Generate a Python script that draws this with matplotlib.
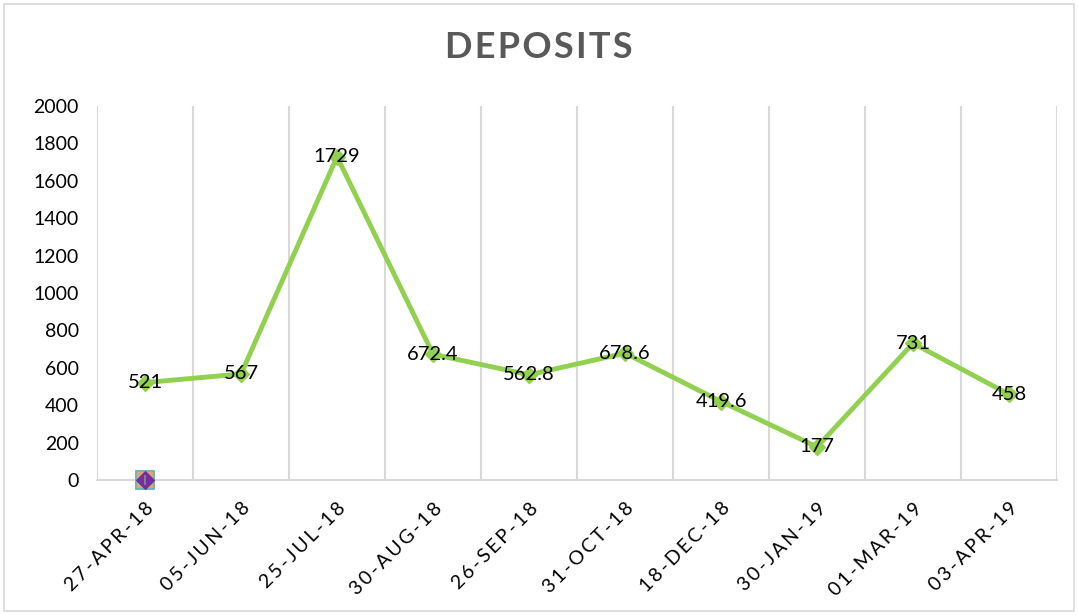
import matplotlib.pyplot as plt
import matplotlib as mpl
from matplotlib.patches import Rectangle

dates = ['27-APR-18', '05-JUN-18', '25-JUL-18', '30-AUG-18', '26-SEP-18',
         '31-OCT-18', '18-DEC-18', '30-JAN-19', '01-MAR-19', '03-APR-19']
deposits = [521, 567, 1729, 672.4, 562.8, 678.6, 419.6, 177, 731, 458]
labels = ['521', '567', '1729', '672.4', '562.8', '678.6', '419.6', '177', '731', '458']
# stray second series: one point at the first date
stray_x = [0]
stray_y = [0]
yticks = [0, 200, 400, 600, 800, 1000, 1200, 1400, 1600, 1800, 2000]

LINE_COLOR = '#92D050'
GRID_COLOR = '#D9D9D9'

mpl.rcParams['font.family'] = ['Lato', 'DejaVu Sans']


def spaced(s, sep='\u2009'):
    # Century Gothic in the original is set wide; fake the tracking
    return sep.join(s)


fig = plt.figure(figsize=(10.78, 6.15), dpi=100)
ax = fig.add_axes([0.09, 0.2195, 0.8906, 0.6081])

x = list(range(len(dates)))
ax.plot(x, deposits, color=LINE_COLOR, linewidth=3.5, marker='D',
        markersize=8, markerfacecolor=LINE_COLOR, markeredgecolor=LINE_COLOR,
        zorder=3)
for xi, yi, lab in zip(x, deposits, labels):
    ax.text(xi, yi, lab, ha='center', va='center', fontsize=14.5, color='black',
            zorder=4)

ax.scatter(stray_x, stray_y, marker='s', s=170, facecolor='#E9A46B',
           edgecolor='#6FB7B7', linewidth=1.5, zorder=5, clip_on=False)
ax.scatter(stray_x, stray_y, marker='D', s=80, facecolor='#7030A0',
           edgecolor='#7030A0', zorder=6, clip_on=False)
ax.plot([0, 0], [-20, 20], color='#8C8C8C', linewidth=1.2, zorder=7,
        clip_on=False)

ax.set_xlim(-0.5, len(dates) - 0.5)
ax.set_ylim(0, 2000)
ax.set_yticks(yticks)
ax.set_yticklabels([str(v) for v in yticks], fontsize=14)
ax.set_xticks(x)
ax.set_xticklabels([spaced(d) for d in dates], rotation=45, ha='right',
                   rotation_mode='anchor', fontsize=14)
ax.tick_params(axis='y', length=0, pad=13)
ax.tick_params(axis='x', length=0, pad=14)

# Excel-style vertical gridlines at the category boundaries
for b in range(1, len(dates) + 1):
    ax.axvline(b - 0.5, color=GRID_COLOR, linewidth=1.5, zorder=1)
for side in ('top', 'right', 'left'):
    ax.spines[side].set_visible(False)
ax.spines['bottom'].set_color(GRID_COLOR)
ax.spines['bottom'].set_linewidth(1.5)
ax.axvline(-0.5, color=GRID_COLOR, linewidth=1.5, zorder=1)

fig.text(0.5, 0.922, spaced('DEPOSITS', '\u200a'), ha='center', va='center',
         fontsize=26, fontweight='bold', color='#595959')

fig.patches.append(Rectangle((0.004, 0.006), 0.992, 0.988, transform=fig.transFigure,
                             fill=False, edgecolor=GRID_COLOR, linewidth=1.2))

fig.savefig('out.png', dpi=100, facecolor='white')
